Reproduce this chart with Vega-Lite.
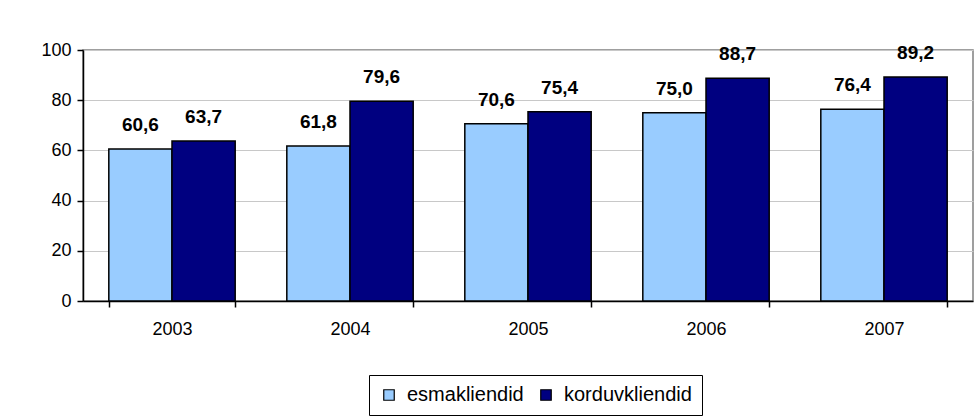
{
  "$schema": "https://vega.github.io/schema/vega-lite/v6.json",
  "width": 890,
  "height": 251,
  "autosize": {"type": "none"},
  "padding": {"left": 83, "top": 50, "right": 7, "bottom": 115},
  "background": "white",
  "config": {
    "locale": {"number": {"decimal": ",", "thousands": " ", "grouping": [3], "currency": ["", " €"]}},
    "font": "Liberation Sans",
    "view": {"stroke": "#808080", "strokeWidth": 1.5},
    "axis": {"labelFont": "Liberation Sans", "titleFont": "Liberation Sans"}
  },
  "data": {
    "values": [
      {"year": "2003", "group": "esmakliendid", "value": 60.6},
      {"year": "2003", "group": "korduvkliendid", "value": 63.7},
      {"year": "2004", "group": "esmakliendid", "value": 61.8},
      {"year": "2004", "group": "korduvkliendid", "value": 79.6},
      {"year": "2005", "group": "esmakliendid", "value": 70.6},
      {"year": "2005", "group": "korduvkliendid", "value": 75.4},
      {"year": "2006", "group": "esmakliendid", "value": 75.0},
      {"year": "2006", "group": "korduvkliendid", "value": 88.7},
      {"year": "2007", "group": "esmakliendid", "value": 76.4},
      {"year": "2007", "group": "korduvkliendid", "value": 89.2}
    ]
  },
  "encoding": {
    "x": {
      "field": "year", "type": "nominal",
      "scale": {"paddingInner": 0.29, "paddingOuter": 0.145},
      "axis": {
        "title": null, "labelAngle": 0, "labelFontSize": 18, "labelColor": "black",
        "domainColor": "black", "domainWidth": 1.5, "tickColor": "black", "tickWidth": 1.5,
        "tickSize": 6, "tickBand": "extent", "labelPadding": 13
      }
    },
    "xOffset": {"field": "group", "type": "nominal", "scale": {"paddingInner": 0, "paddingOuter": 0}},
    "y": {
      "field": "value", "type": "quantitative",
      "scale": {"domain": [0, 100], "nice": false},
      "axis": {
        "title": null, "values": [0, 20, 40, 60, 80, 100], "labelFontSize": 18, "labelColor": "black",
        "domainColor": "black", "domainWidth": 1.5, "tickColor": "black", "tickWidth": 1.5,
        "tickSize": 6, "labelPadding": 6, "grid": true, "gridColor": "#c8c8c8", "gridWidth": 1.2
      }
    }
  },
  "layer": [
    {
      "mark": {"type": "bar", "stroke": "black", "strokeWidth": 1.5},
      "encoding": {
        "color": {
          "field": "group", "type": "nominal",
          "scale": {"domain": ["esmakliendid", "korduvkliendid"], "range": ["#99ccff", "#000080"]},
          "legend": {
            "title": null, "orient": "none", "direction": "horizontal",
            "legendX": 286, "legendY": 325,
            "symbolType": "square", "symbolSize": 110, "symbolStrokeColor": "black", "symbolStrokeWidth": 1.2,
            "labelFontSize": 20, "labelColor": "black", "labelFont": "Liberation Sans",
            "strokeColor": "black", "padding": 10, "columnPadding": 12, "symbolOffset": 0,
            "labelOffset": 8
          }
        }
      }
    },
    {
      "mark": {"type": "text", "baseline": "alphabetic", "dy": -18, "fontSize": 19, "fontWeight": "bold", "color": "black"},
      "encoding": {
        "text": {"field": "value", "type": "quantitative", "format": ".1f"}
      }
    }
  ]
}
